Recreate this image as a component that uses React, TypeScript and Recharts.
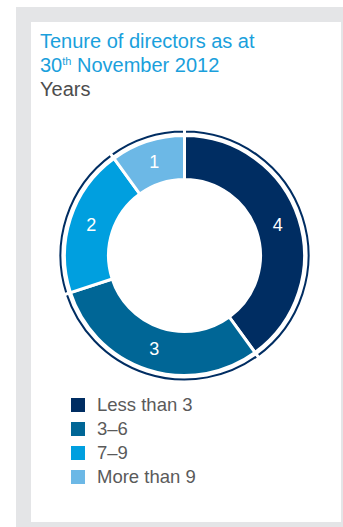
import React from "react";
import { PieChart, Pie, Cell, Legend } from "recharts";

const categories = ["Less than 3", "3–6", "7–9", "More than 9"];
const values = [4, 3, 2, 1];
const colors = ["#002d62", "#006696", "#009fdf", "#6cb8e6"];
const titleLines = ["Tenure of directors as at", "November 2012"];

const data = categories.map((name, i) => ({ name, value: values[i] }));

const RADIAN = Math.PI / 180;
const renderLabel = (props: any) => {
  const { cx, cy, midAngle, innerRadius, outerRadius, value } = props;
  const r = (innerRadius + outerRadius) / 2;
  const x = cx + r * Math.cos(-midAngle * RADIAN);
  const y = cy + r * Math.sin(-midAngle * RADIAN);
  return (
    <text
      x={x}
      y={y}
      fill="#ffffff"
      textAnchor="middle"
      dominantBaseline="central"
      fontSize={18}
      fontFamily="Liberation Sans, Arial, sans-serif"
    >
      {value}
    </text>
  );
};

const renderLegend = () => {
  return (
    <div style={{ fontFamily: "Liberation Sans, Arial, sans-serif" }}>
      {categories.map((name, i) => (
        <div
          key={i}
          style={{ display: "flex", alignItems: "center", height: 24 }}
        >
          <div
            style={{
              width: 14,
              height: 14,
              background: colors[i],
              marginRight: 12,
            }}
          />
          <span style={{ fontSize: 18.5, color: "#5a5a5a" }}>{name}</span>
        </div>
      ))}
    </div>
  );
};

export default function App() {
  return (
    <div
      style={{
        position: "absolute",
        left: 0,
        top: 0,
        width: 343,
        height: 527,
        background: "#ffffff",
        overflow: "hidden",
      }}
    >
      <div
        style={{
          position: "absolute",
          left: 16,
          top: 7,
          width: 327,
          height: 530,
          background: "#e4e5e7",
        }}
      />
      <div
        style={{
          position: "absolute",
          left: 31,
          top: 22,
          width: 310,
          height: 500,
          background: "#ffffff",
        }}
      />
      <div
        style={{
          position: "absolute",
          left: 40,
          top: 29,
          fontFamily: "Liberation Sans, Arial, sans-serif",
          fontSize: 20,
          lineHeight: "24px",
          whiteSpace: "nowrap",
        }}
      >
        <div style={{ color: "#1aa0dc" }}>{titleLines[0]}</div>
        <div style={{ color: "#1aa0dc" }}>
          30<sup style={{ fontSize: 11, verticalAlign: "top", lineHeight: "16px" }}>th</sup> {titleLines[1]}
        </div>
        <div style={{ color: "#4d4d4d" }}>Years</div>
      </div>
      <div style={{ position: "absolute", left: 0, top: 0 }}>
        <PieChart width={343} height={527} margin={{ top: 0, left: 0, right: 0, bottom: 0 }}>
          <Pie
            data={data}
            dataKey="value"
            nameKey="name"
            cx={184.5}
            cy={255.5}
            innerRadius={121.5}
            outerRadius={126.5}
            startAngle={90}
            endAngle={-270}
            stroke="#ffffff"
            strokeWidth={3}
            fill="#002d62"
            isAnimationActive={false}
            legendType="none"
          >
            {data.map((_, i) => (
              <Cell key={i} fill="#002d62" />
            ))}
          </Pie>
          <Pie
            data={data}
            dataKey="value"
            nameKey="name"
            cx={184.5}
            cy={255.5}
            innerRadius={76}
            outerRadius={120}
            startAngle={90}
            endAngle={-270}
            stroke="#ffffff"
            strokeWidth={3}
            label={renderLabel}
            labelLine={false}
            isAnimationActive={false}
          >
            {data.map((_, i) => (
              <Cell key={i} fill={colors[i]} />
            ))}
          </Pie>
          <Legend
            content={renderLegend}
            wrapperStyle={{ position: "absolute", left: 71, top: 393, width: 200, bottom: "auto" }}
          />
        </PieChart>
      </div>
    </div>
  );
}
